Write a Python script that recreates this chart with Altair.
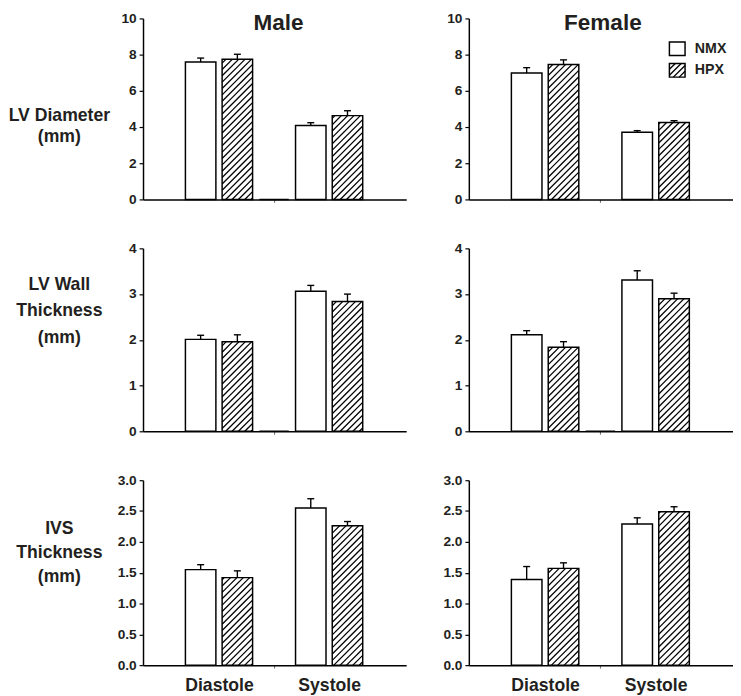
import math
import altair as alt
import pandas as pd

FONT = "Liberation Sans"
INK = "#231f20"

# ---------------- data ----------------
sexes = ["Male", "Female"]
phases = ["Diastole", "Systole"]
groups = ["NMX", "HPX"]
# bar order inside each panel: Diastole-NMX, Diastole-HPX, Systole-NMX, Systole-HPX
male_lvd = [7.59, 7.74, 4.08, 4.63]
male_lvd_err = [0.22, 0.28, 0.16, 0.27]
female_lvd = [6.98, 7.46, 3.71, 4.25]
female_lvd_err = [0.30, 0.25, 0.09, 0.10]

male_lvwt = [2.01, 1.96, 3.06, 2.84]
male_lvwt_err = [0.09, 0.15, 0.13, 0.16]
female_lvwt = [2.11, 1.84, 3.31, 2.90]
female_lvwt_err = [0.09, 0.12, 0.20, 0.12]

male_ivs = [1.55, 1.42, 2.55, 2.26]
male_ivs_err = [0.08, 0.11, 0.15, 0.07]
female_ivs = [1.39, 1.57, 2.29, 2.49]
female_ivs_err = [0.21, 0.09, 0.10, 0.08]

row_titles = [["LV Diameter", "(mm)"], ["LV Wall", "Thickness", "(mm)"], ["IVS", "Thickness", "(mm)"]]
y_max = [10, 4, 3.0]
y_ticks = [[0, 2, 4, 6, 8, 10], [0, 1, 2, 3, 4], [0, 0.5, 1.0, 1.5, 2.0, 2.5, 3.0]]
y_formats = ["d", "d", ".1f"]
# panels that show an empty (zero-height) bar between the two phases
empty_gap_bar = [("Male", 0), ("Male", 1), ("Female", 1)]

values = {
    ("Male", 0): (male_lvd, male_lvd_err), ("Female", 0): (female_lvd, female_lvd_err),
    ("Male", 1): (male_lvwt, male_lvwt_err), ("Female", 1): (female_lvwt, female_lvwt_err),
    ("Male", 2): (male_ivs, male_ivs_err), ("Female", 2): (female_ivs, female_ivs_err),
}

# ---------------- layout ----------------
slot_pos = [1.5, 2.5, 4.5, 5.5]      # positions on the linear x scale
gap_pos = 3.5
XD = [-0.07, 7.1]
HALF = 0.415
CAP = 0.095
WIDTHS = {"Male": 269, "Female": 270}
HEIGHTS = [185, 187, 189]
TITLE_Y = [90, 28, 40]
TITLE_LH = [22, 27, 25]
HATCH = 6.5


def px_x(x, W):
    return (x - XD[0]) / (XD[1] - XD[0]) * W


def dx(u, W):
    return XD[0] + u / W * (XD[1] - XD[0])


def hatch(u0, u1, v0, v1, W, H, ymax, spacing):
    """diagonal '/' lines clipped to a pixel rectangle, returned in data units"""
    segs = []
    k = math.floor((u0 - v1) / spacing) - 1
    while k * spacing < u1:
        c = k * spacing
        us = max(u0, c + v0)
        ue = min(u1, c + v1)
        if ue - us > 0.4:
            segs.append(dict(hx=dx(us, W), hy=(us - c) / H * ymax,
                             hx2=dx(ue, W), hy2=(ue - c) / H * ymax))
        k += 1
    return segs


def panel(sex, row):
    W = WIDTHS[sex]
    H = HEIGHTS[row]
    ymax = y_max[row]
    means, errs = values[(sex, row)]
    recs = []
    for i, (m, e) in enumerate(zip(means, errs)):
        recs.append(dict(phase=phases[i // 2], group=groups[i % 2], mean=m, hi=m + e,
                         x0=slot_pos[i] - HALF, x1=slot_pos[i] + HALF, pos=slot_pos[i],
                         c0=slot_pos[i] - CAP, c1=slot_pos[i] + CAP, base=0.0))
    df = pd.DataFrame(recs)

    segs = []
    for r in recs:
        if r["group"] == "HPX":
            segs += hatch(px_x(r["x0"], W), px_x(r["x1"], W), 0, r["mean"] / ymax * H,
                          W, H, ymax, HATCH)
    hdf = pd.DataFrame(segs)

    xs = alt.Scale(domain=XD, nice=False, zero=False)
    ys = alt.Scale(domain=[0, ymax], nice=False, zero=True)
    x_axis = alt.Axis(
        values=[2, 3.5, 5], title=None, grid=False,
        domainColor="black", domainWidth=1.5,
        tickColor={"condition": {"test": "datum.value == 3.5", "value": "#666666"},
                   "value": "transparent"},
        tickSize=3, tickWidth=1,
        labels=(row == 2), labelOverlap=False, labelFlush=False,
        labelExpr="datum.value == 2 ? 'Diastole' : datum.value == 5 ? 'Systole' : ''",
        labelFont=FONT, labelFontSize=18, labelFontWeight="bold", labelColor=INK,
        labelPadding=9,
    )
    ykw = dict(values=y_ticks[row], format=y_formats[row], grid=False,
               domainColor="black", domainWidth=1.5, tickColor="black", tickSize=4,
               tickWidth=1.2, labelFont=FONT, labelFontSize=14, labelFontWeight="bold",
               labelColor=INK, labelPadding=3)
    if sex == "Male":
        ykw.update(title=row_titles[row], titleAngle=0, titleAlign="center",
                   titleBaseline="top", titleX=-86, titleY=TITLE_Y[row],
                   titleFont=FONT, titleFontSize=18, titleFontWeight="bold",
                   titleColor=INK, titleLineHeight=TITLE_LH[row])
    else:
        ykw.update(title=None)
    y_axis = alt.Axis(**ykw)

    def X(f):
        return alt.X(f, type="quantitative", scale=xs, axis=x_axis)

    def Y(f):
        return alt.Y(f, type="quantitative", scale=ys, axis=y_axis)

    layers = []
    base = alt.Chart(df)
    layers.append(base.mark_rect(fill="white", strokeWidth=0).encode(
        x=X("x0"), x2="x1", y=Y("base"), y2="mean"))
    if len(hdf):
        layers.append(alt.Chart(hdf).mark_rule(color="black", strokeWidth=1.3).encode(
            x=X("hx"), x2="hx2", y=Y("hy"), y2="hy2"))
    layers.append(base.mark_rect(fillOpacity=0, fill="white", stroke="black",
                                 strokeWidth=1.5).encode(
        x=X("x0"), x2="x1", y=Y("base"), y2="mean"))
    layers.append(base.mark_rule(color="black", strokeWidth=1.4).encode(
        x=X("pos"), y=Y("mean"), y2="hi"))
    layers.append(base.mark_rule(color="black", strokeWidth=1.4).encode(
        x=X("c0"), x2="c1", y=Y("hi")))

    if (sex, row) in empty_gap_bar:
        gdf = pd.DataFrame([dict(x0=gap_pos - 0.4, x1=gap_pos + 0.4, v=0.0)])
        layers.append(alt.Chart(gdf).mark_rect(fillOpacity=0, stroke="black",
                                               strokeWidth=1.5).encode(
            x=X("x0"), x2="x1", y=Y("v"), y2="v"))

    if row == 0:
        tdf = pd.DataFrame([dict(t=sex)])
        layers.append(alt.Chart(tdf).mark_text(
            font=FONT, fontSize=23, fontWeight="bold", color=INK,
            align="center", baseline="alphabetic").encode(
            text="t:N", x=alt.value(W / 2 + (4 if sex == "Male" else 2)), y=alt.value(12)))

    if sex == "Female" and row == 0:
        # legend drawn inside the panel (pixel spec converted to data units)
        lu0, lu1 = 205, 221
        boxes = [("NMX", 24, 38), ("HPX", 46, 60)]
        lrecs, ltxt, lsegs = [], [], []
        for name, t0, t1 in boxes:
            v0, v1 = H - t1, H - t0
            lrecs.append(dict(bx=dx(lu0, W), bx2=dx(lu1, W), by=v0 / H * ymax, by2=v1 / H * ymax))
            ltxt.append(dict(tx=dx(231, W), ty=(v0 + v1) / 2 / H * ymax, name=name))
            if name == "HPX":
                lsegs += hatch(lu0, lu1, v0, v1, W, H, ymax, 6.0)
        ldf = pd.DataFrame(lrecs)
        layers.append(alt.Chart(ldf).mark_rect(fill="white", stroke=None).encode(
            x=X("bx"), x2="bx2", y=Y("by"), y2="by2"))
        layers.append(alt.Chart(pd.DataFrame(lsegs)).mark_rule(color="black", strokeWidth=1.4).encode(
            x=X("hx"), x2="hx2", y=Y("hy"), y2="hy2"))
        layers.append(alt.Chart(ldf).mark_rect(fillOpacity=0, stroke="black", strokeWidth=1.5).encode(
            x=X("bx"), x2="bx2", y=Y("by"), y2="by2"))
        layers.append(alt.Chart(pd.DataFrame(ltxt)).mark_text(
            font=FONT, fontSize=14.5, fontWeight="bold", color=INK,
            align="left", baseline="middle").encode(
            x=X("tx"), y=Y("ty"), text="name:N"))

    return alt.layer(*layers).properties(width=W, height=H)


panels = []
for row in range(3):
    for sex in sexes:
        panels.append(panel(sex, row))

chart = alt.concat(*panels, columns=2, spacing={"row": 36, "column": 37}).properties(
    padding={"top": -4, "left": 0, "right": 0, "bottom": 0}
).configure_view(stroke=None)

chart.save("out.html", embed_options={"renderer": "svg", "actions": False})
